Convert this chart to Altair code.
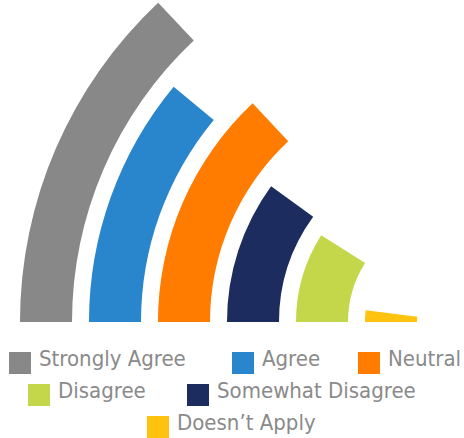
import math
import altair as alt
import pandas as pd

# ---- data (rings from outermost to innermost) ----
categories = ["Strongly Agree", "Agree", "Neutral", "Somewhat Disagree", "Disagree", "Doesn\u2019t Apply"]
values = [52, 44, 52, 40, 36, 8]
colors = ["#888888", "#2985CC", "#FF7C00", "#1C2C5F", "#C4D74A", "#FFC20E"]

# legend order as in the reference
legend_labels = ["Strongly Agree", "Agree", "Neutral", "Disagree", "Somewhat Disagree", "Doesn\u2019t Apply"]

# ---- layout ----
W, H = 464, 438
CX, CY = 458, 322
legend_sq_x = [9, 232, 358, 28, 187, 147]
legend_row = [0, 0, 0, 1, 1, 2]
row_top = [352, 384, 416]
SQ = 22
TEXT_GAP = 8
TEXT_COLOR = "#8A8A8A"
FONT = "DejaVu Sans Condensed, DejaVu Sans, sans-serif"

df = pd.DataFrame({
    "category": categories,
    "value": values,
    "ring": list(range(len(categories) - 1, -1, -1)),
})

color_scale = alt.Scale(domain=categories, range=colors)

arcs = alt.Chart(df).transform_calculate(
    outer="datum.ring + 0.754",
    start="0",
).mark_arc().encode(
    x=alt.value(CX),
    y=alt.value(CY),
    theta=alt.Theta("value:Q", stack=False,
                    scale=alt.Scale(domain=[0, 100], range=[1.5 * math.pi, 2 * math.pi])),
    theta2="start",
    radius=alt.Radius("outer:Q",
                      scale=alt.Scale(type="linear", domain=[0, 6], range=[41, 455], zero=False)),
    radius2="ring",
    color=alt.Color("category:N", scale=color_scale, legend=None),
)

layers = [arcs]
for lab, sx, r in zip(legend_labels, legend_sq_x, legend_row):
    col = colors[categories.index(lab)]
    ld = pd.DataFrame({"label": [lab]})
    top = row_top[r]
    sq = alt.Chart(ld).mark_rect(color=col).encode(
        x=alt.value(sx), x2=alt.value(sx + SQ),
        y=alt.value(top), y2=alt.value(top + SQ),
    )
    tx = alt.Chart(ld).mark_text(
        align="left", baseline="alphabetic", font=FONT, fontSize=22, color=TEXT_COLOR
    ).encode(
        x=alt.value(sx + SQ + TEXT_GAP),
        y=alt.value(top + 13.5),
        text="label:N",
    )
    layers += [sq, tx]

chart = alt.layer(*layers).properties(
    width=W, height=H, padding=0,
    autosize=alt.AutoSizeParams(type="none"),
).configure_view(stroke=None)

chart.save("out.html", embed_options={"renderer": "svg", "actions": False})
